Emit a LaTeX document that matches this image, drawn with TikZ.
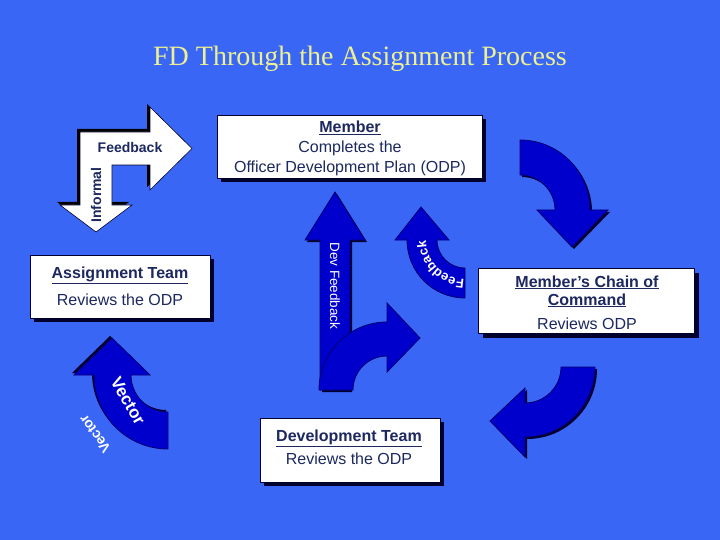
\documentclass[tikz,border=0pt]{standalone}
\usepackage{fontspec}
\setmainfont{Liberation Serif}
\setsansfont{Liberation Sans}
\usetikzlibrary{decorations.text,shadows}
\definecolor{bg}{RGB}{58,102,246}
\definecolor{arrowblue}{RGB}{0,0,204}
\definecolor{navy}{RGB}{0,0,110}
\definecolor{shade}{RGB}{0,0,45}
\definecolor{boxtext}{RGB}{28,40,95}
\definecolor{titlecol}{RGB}{236,240,145}
\newcommand\fsz[1]{\fontsize{#1}{#1}\selectfont}
\begin{document}
\begin{tikzpicture}[x=1pt,y=-1pt,
  box/.style={draw=shade, fill=white, line width=0.8pt, inner sep=0pt,
    drop shadow={shadow xshift=4pt, shadow yshift=-4pt, opacity=1, fill=shade}},
  bhead/.style={font=\sffamily\bfseries\fsz{16}, text=boxtext, inner sep=0pt, anchor=base},
  btxt/.style={font=\sffamily\fsz{16}, text=boxtext, inner sep=0pt, anchor=base},
  darrow/.style={fill=arrowblue, draw=navy, line width=0.8pt},
  dshadow/.style={drop shadow={shadow xshift=2pt, shadow yshift=-2pt, opacity=1, fill=shade}},
  ushadow/.style={drop shadow={shadow xshift=-2pt, shadow yshift=2pt, opacity=1, fill=shade}},
  warrow/.style={fill=white, draw=shade, line width=0.6pt,
    drop shadow={shadow xshift=-3pt, shadow yshift=3pt, opacity=1, fill=black}},
  wtxt/.style={text=white, inner sep=0pt}
]
\useasboundingbox (0,0) rectangle (720,540);
\fill[bg] (0,0) rectangle (720,540);

% title
\node[font=\fsz{28}, text=titlecol, inner sep=0pt, anchor=base] (title) at (360,66) {FD Through the Assignment Process};

% boxes
\node[box, minimum width=265, minimum height=63] (memberbox) at (349.5,147) {};
\node[box, minimum width=180, minimum height=63] (assignbox) at (120,286.5) {};
\node[box, minimum width=216, minimum height=65] (chainbox) at (586.5,301) {};
\node[box, minimum width=180, minimum height=64] (devbox) at (350,450) {};

\node[bhead] (m1) at (350,133) {\underline{Member}};
\node[btxt] (m2) at (350,153) {Completes the};
\node[btxt] (m3) at (350,173) {Officer Development Plan (ODP)};

\node[bhead] (a1) at (120,278) {\underline{Assignment Team}};
\node[btxt] (a2) at (120,305) {Reviews the ODP};

\node[bhead] (c1) at (587,287) {\underline{Member’s Chain of}};
\node[bhead] (c2) at (587,305) {\underline{Command}};
\node[btxt] (c3) at (587,329) {Reviews ODP};

\node[bhead] (d1) at (349,441) {\underline{Development Team}};
\node[btxt] (d2) at (349,464) {Reviews the ODP};

% white bent arrow (informal feedback)
\draw[warrow] (80,132) -- (150,132) -- (150,107) -- (192,148.5) -- (150,190) -- (150,165)
  -- (112,165) -- (112,205) -- (132,205) -- (96,232) -- (60,205) -- (80,205) -- cycle;
\node[font=\sffamily\bfseries\fsz{14}, text=boxtext, inner sep=0pt, anchor=base] (fbl) at (130,153) {Feedback};
\node[font=\sffamily\bfseries\fsz{14}, text=boxtext, inner sep=0pt, rotate=90] (infl) at (96,195) {Informal};

% top-right curved arrow
\draw[darrow, dshadow] (520,140) arc[start angle=270, end angle=360, radius=70]
  -- (608,210) -- (572,247) -- (537,210) -- (555,210)
  arc[start angle=360, end angle=270, radius=35] -- cycle;

% bottom-right curved arrow
\draw[darrow, dshadow] (595,367) arc[start angle=0, end angle=90, radius=70]
  -- (525,457) -- (490,421) -- (525,388) -- (525,403)
  arc[start angle=90, end angle=0, radius=36] -- cycle;

% vector arrow
\draw[darrow, ushadow] (168,412) -- (168,449) arc[start angle=90, end angle=180, radius=74]
  -- (74,375) -- (112,338) -- (150,375) -- (131,375)
  arc[start angle=180, end angle=90, radius=37] -- cycle;
\node[wtxt, font=\sffamily\bfseries\fsz{17}, rotate=-60] (vec1) at (128,401) {Vector};
\node[wtxt, font=\sffamily\bfseries\fsz{14}, rotate=126] (vec2) at (95,434) {Vector};

% dev feedback straight arrow
\draw[darrow, dshadow] (320,390) -- (320,240) -- (305,240) -- (335,192) -- (365,240)
  -- (350,240) -- (350,390) -- cycle;
\node[wtxt, font=\sffamily\fsz{13.5}, rotate=-90] (devfb) at (335,286) {Dev Feedback};

% curved arrow from dev team
\draw[darrow] (319,390) arc[start angle=180, end angle=270, radius=68]
  -- (387,303) -- (420,338) -- (387,372) -- (387,356)
  arc[start angle=270, end angle=180, radius=34] -- cycle;

% feedback curved arrow
\draw[darrow] (465,298) arc[start angle=90, end angle=180, radius=58]
  -- (395,240) -- (421,207) -- (449,240) -- (437,240)
  arc[start angle=180, end angle=90, radius=28] -- cycle;
\path[decorate, decoration={text along path, text align=center,
  text={|\sffamily\bfseries\fsz{13}\color{white}|Feedback}}]
  (465,279) arc[start angle=90, end angle=180, radius=39];
\end{tikzpicture}
\end{document}
